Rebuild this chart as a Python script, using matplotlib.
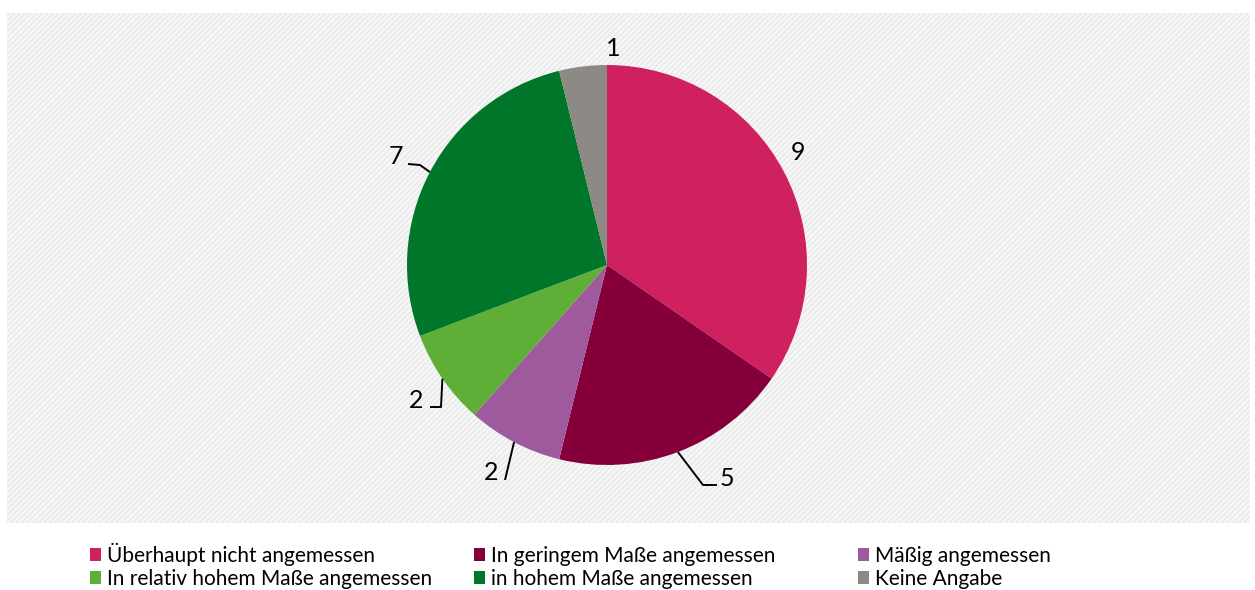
import matplotlib
matplotlib.use("Agg")
import matplotlib.pyplot as plt
from matplotlib.patches import Rectangle, Patch
import numpy as np

plt.rcParams['font.family'] = ['Lato', 'DejaVu Sans']
plt.rcParams['hatch.linewidth'] = 0.8

categories = ["Überhaupt nicht angemessen", "In geringem Maße angemessen", "Mäßig angemessen",
              "In relativ hohem Maße angemessen", "in hohem Maße angemessen", "Keine Angabe"]
values = [9, 5, 2, 2, 7, 1]
colors = ["#CF2060", "#85003B", "#9E5A9D", "#5EAE37", "#00762A", "#8D8985"]

W, H = 1255, 590
fig = plt.figure(figsize=(W / 100, H / 100), dpi=100)

# hatched plot area background
bg_ax = fig.add_axes([0, 0, 1, 1], zorder=-5)
bg_ax.axis("off")
bg_ax.set_xlim(0, W)
bg_ax.set_ylim(H, 0)
bg_ax.add_patch(Rectangle((7, 13), 1250 - 7, 523 - 13, facecolor="#f6f6f6",
                          edgecolor="#e6e6e6", hatch="//////", lw=0))

cx, cy, R = 607, 265, 200
ax = fig.add_axes([(cx - R) / W, 1 - (cy + R) / H, 2 * R / W, 2 * R / H], zorder=1)
ax.axis("off")

wedges, _ = ax.pie(values, colors=colors, startangle=90, counterclock=False, radius=1,
                   wedgeprops=dict(linewidth=0))
ax.set_xlim(-1, 1)
ax.set_ylim(-1, 1)
ax.set_aspect("auto")

def px(x, y):
    return ((x - cx) / R, (cy - y) / R)

# label placements (pixel) and leader-line elbows
label_pos = [(798, 153), (727, 478), (491, 472), (416, 400), (396, 157), (613, 48)]
elbows = [None, [(717, 485), (703, 485)], [(505, 480)], [(430, 407), (441, 407)],
          [(408, 164), (420, 165)], None]

for w, v, lp, el in zip(wedges, values, label_pos, elbows):
    lx, ly = px(*lp)
    ax.text(lx, ly, str(v), ha="center", va="center", fontsize=18, color="#000000")
    if el:
        mid = np.deg2rad((w.theta1 + w.theta2) / 2)
        pts = [px(*p) for p in el] + [(np.cos(mid), np.sin(mid))]
        xs, ys = zip(*pts)
        ax.plot(xs, ys, color="black", lw=1.4, solid_capstyle="butt", clip_on=False)

# legend: three columns x two rows, row-wise order (anchored at bottom so baselines align)
col_x = [90, 474, 858]
row_bottom = [566, 589]
for i, (cat, col) in enumerate(zip(categories, colors)):
    r, c = divmod(i, 3)
    fig.legend([Patch(facecolor=col, edgecolor="none")], [cat], loc="lower left",
               bbox_to_anchor=(col_x[c] / W, 1 - row_bottom[r] / H), frameon=False,
               fontsize=15, handlelength=0.55, handleheight=0.55, handletextpad=0.25,
               borderaxespad=0, borderpad=0)

fig.savefig("out.png", dpi=100, facecolor="white")
